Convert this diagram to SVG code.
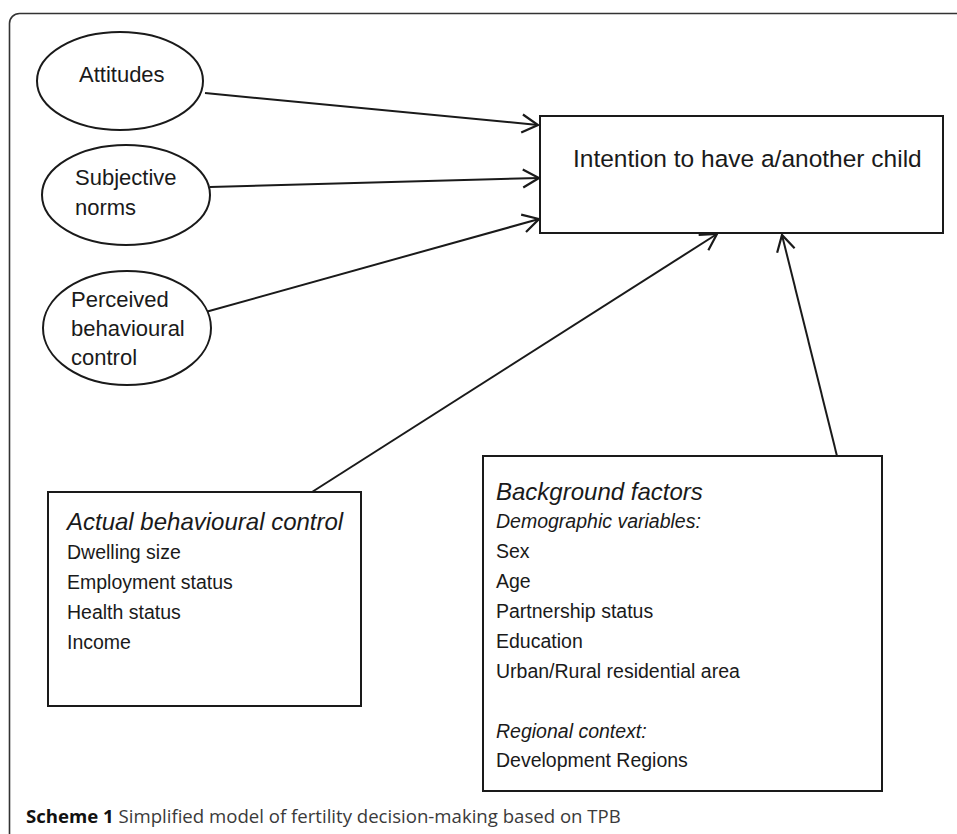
<svg xmlns="http://www.w3.org/2000/svg" width="957" height="834" viewBox="0 0 957 834">
<style>
.t{font-family:"Liberation Sans",Arial,sans-serif;fill:#1a1a1a}
.e{font-size:22px}
.h{font-size:24px;font-style:italic}
.i{font-size:19.5px}
.it{font-size:19.5px;font-style:italic}
.shape{fill:#fff;stroke:#1a1a1a;stroke-width:2}
.conn{fill:none;stroke:#1a1a1a;stroke-width:2;marker-end:url(#arr)}
.cap{font-family:"Open Sans","Noto Sans",sans-serif;font-size:18.6px;fill:#3a3a3a}
</style>
<defs>
<marker id="arr" markerUnits="userSpaceOnUse" markerWidth="24" markerHeight="24" viewBox="-20 -12 24 24" refX="0" refY="0" orient="auto">
<path d="M-16,-9 L0,0 L-16,9" fill="none" stroke="#1a1a1a" stroke-width="2.2"/>
</marker>
</defs>
<rect width="957" height="834" fill="#fff"/>
<rect x="9.5" y="13.5" width="1000" height="900" rx="10" fill="none" stroke="#333" stroke-width="1.6"/>
<g id="connectors">
<line class="conn" x1="205" y1="93" x2="538" y2="125"/>
<line class="conn" x1="210" y1="187" x2="539" y2="178"/>
<line class="conn" x1="202" y1="313" x2="539" y2="219"/>
<line class="conn" x1="312" y1="492" x2="717" y2="234"/>
<line class="conn" x1="837" y1="456" x2="782" y2="235"/>
</g>
<g id="attitudes">
<ellipse class="shape" cx="120" cy="81" rx="83" ry="49"/>
<text class="t e" x="79" y="82">Attitudes</text>
</g>
<g id="subjective-norms">
<ellipse class="shape" cx="126" cy="195" rx="84" ry="50"/>
<text class="t e" x="75" y="185">Subjective</text>
<text class="t e" x="75" y="215">norms</text>
</g>
<g id="perceived-control">
<ellipse class="shape" cx="127" cy="328" rx="84" ry="57"/>
<text class="t e" x="71" y="307">Perceived</text>
<text class="t e" x="71" y="336">behavioural</text>
<text class="t e" x="71" y="365">control</text>
</g>
<g id="intention">
<rect class="shape" x="540" y="116" width="403" height="117"/>
<text class="t" x="573" y="167" font-size="24.5">Intention to have a/another child</text>
</g>
<g id="actual-control">
<rect class="shape" x="48" y="492" width="313" height="214"/>
<text class="t h" x="67" y="530">Actual behavioural control</text>
<text class="t i" x="67" y="559">Dwelling size</text>
<text class="t i" x="67" y="589">Employment status</text>
<text class="t i" x="67" y="619">Health status</text>
<text class="t i" x="67" y="649">Income</text>
</g>
<g id="background-factors">
<rect class="shape" x="483" y="456" width="399" height="335"/>
<text class="t h" x="496" y="500">Background factors</text>
<text class="t it" x="496" y="528">Demographic variables:</text>
<text class="t i" x="496" y="558">Sex</text>
<text class="t i" x="496" y="588">Age</text>
<text class="t i" x="496" y="618">Partnership status</text>
<text class="t i" x="496" y="648">Education</text>
<text class="t i" x="496" y="678">Urban/Rural residential area</text>
<text class="t it" x="496" y="738">Regional context:</text>
<text class="t i" x="496" y="767">Development Regions</text>
</g>
<text class="cap" x="26" y="823"><tspan font-weight="bold" fill="#111">Scheme 1</tspan> Simplified model of fertility decision-making based on TPB</text>
</svg>
